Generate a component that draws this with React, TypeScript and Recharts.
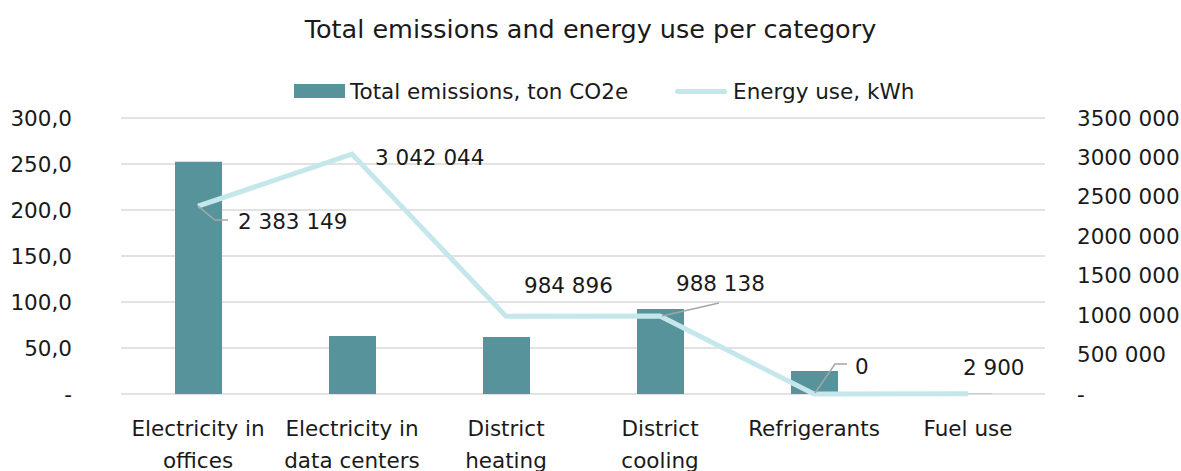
import React from 'react';
import {
    ComposedChart,
    Bar,
    Line,
    XAxis,
    YAxis,
    CartesianGrid,
    LabelList,
} from 'recharts';

// ─── Data ───────────────────────────────────────────────────────
const categories = [
    'Electricity in offices',
    'Electricity in data centers',
    'District heating',
    'District cooling',
    'Refrigerants',
    'Fuel use',
];
const emissions = [252.5, 63.0, 62.0, 92.3, 25.0, 0.2];
const energyUse = [2383149, 3042044, 984896, 988138, 0, 2900];
const leftTicks = [0, 50, 100, 150, 200, 250, 300];
const rightTicks = [0, 500000, 1000000, 1500000, 2000000, 2500000, 3000000, 3500000];

const data = categories.map((name, i) => ({
    name,
    emissions: emissions[i],
    energy: energyUse[i],
}));

// label placement relative to each line point (Excel moved some labels by hand)
const labelOffsets: { dx: number; dy: number; leader?: number[][] }[] = [
    { dx: 40, dy: 15, leader: [[0, 0], [17, 14], [30, 14]] },
    { dx: 23, dy: 3 },
    { dx: 18, dy: -31 },
    { dx: 16, dy: -33, leader: [[2, 0], [59, -13]] },
    { dx: 41, dy: -28, leader: [[1, -1], [21, -30], [33, -30]] },
    { dx: -5, dy: -26 },
];

const FONT = '"DejaVu Sans", sans-serif';
const FS = 21.5;
const BAR_COLOR = '#56939b';
const LINE_COLOR = '#c5e7ec';
const TEXT_COLOR = '#1a1a1a';

const fmtLeft = (v: number) => (v === 0 ? '-' : v.toFixed(1).replace('.', ','));
const fmtRight = (v: number) => {
    if (v === 0) return '-';
    const k = Math.floor(v / 1000);
    return `${k} ${String(v % 1000).padStart(3, '0')}`;
};
const fmtLabel = (v: number) => String(v).replace(/\B(?=(\d{3})+(?!\d))/g, ' ');

// greedy word wrap, like Excel does for category labels
let ctx: CanvasRenderingContext2D | null = null;
const wrap = (s: string, maxW: number) => {
    if (!ctx) ctx = document.createElement('canvas').getContext('2d');
    ctx!.font = `${FS}px ${FONT}`;
    const lines: string[] = [];
    let cur = '';
    s.split(' ').forEach((w) => {
        const test = cur ? `${cur} ${w}` : w;
        if (cur && ctx!.measureText(test).width > maxW) {
            lines.push(cur);
            cur = w;
        } else cur = test;
    });
    lines.push(cur);
    return lines;
};

const LeftTick = (props: any) => (
    <text x={72} y={props.y} textAnchor="end" dominantBaseline="central"
        fontFamily={FONT} fontSize={FS} fill={TEXT_COLOR}>
        {fmtLeft(props.payload.value)}
    </text>
);

const RightTick = (props: any) => (
    <text x={1077} y={props.y} textAnchor="start" dominantBaseline="central"
        fontFamily={FONT} fontSize={FS} fill={TEXT_COLOR}>
        {fmtRight(props.payload.value)}
    </text>
);

const CategoryTick = (props: any) => (
    <text textAnchor="middle" fontFamily={FONT} fontSize={FS} fill={TEXT_COLOR}>
        {wrap(props.payload.value, 142).map((line, i) => (
            <tspan key={i} x={props.x} y={428 + i * 32} dominantBaseline="central">{line}</tspan>
        ))}
    </text>
);

const EnergyLabel = (props: any) => {
    const { x, y, index, value } = props;
    const o = labelOffsets[index];
    return (
        <g>
            {o.leader && (
                <polyline
                    points={o.leader.map(([px, py]) => `${x + px},${y + py}`).join(' ')}
                    fill="none" stroke="#a6a6a6" strokeWidth={1.5}
                />
            )}
            <text x={x + o.dx} y={y + o.dy} dominantBaseline="central"
                fontFamily={FONT} fontSize={FS} fill={TEXT_COLOR}>
                {fmtLabel(value)}
            </text>
        </g>
    );
};

export default function App() {
    return (
        <div style={{ position: 'absolute', left: 0, top: 0, width: 1181, height: 471, background: '#fff', fontFamily: FONT }}>
            <div style={{ position: 'absolute', top: 14, left: 0, width: 1181, textAlign: 'center', fontSize: 25.5, color: TEXT_COLOR }}>
                Total emissions and energy use per category
            </div>

            {/* Legend */}
            <div style={{ position: 'absolute', top: 77, left: 294, height: 28, display: 'flex', alignItems: 'center', fontSize: FS, color: TEXT_COLOR, whiteSpace: 'nowrap' }}>
                <span style={{ width: 51, height: 14, background: BAR_COLOR, display: 'inline-block', marginRight: 5 }} />
                <span style={{ marginRight: 47 }}>Total emissions, ton CO2e</span>
                <span style={{ width: 52, height: 5, borderRadius: 3, background: LINE_COLOR, display: 'inline-block', marginRight: 6 }} />
                <span>Energy use, kWh</span>
            </div>

            <ComposedChart
                width={1181}
                height={471}
                data={data}
                margin={{ top: 118, right: 0, bottom: 0, left: 0 }}
                style={{ position: 'absolute', left: 0, top: 0 }}
            >
                <CartesianGrid yAxisId="left" vertical={false} stroke="#d9d9d9" strokeWidth={1.5} />
                <XAxis dataKey="name" height={77} axisLine={false} tickLine={false}
                    tick={<CategoryTick />} interval={0} />
                <YAxis yAxisId="left" orientation="left" width={121} domain={[0, 300]}
                    ticks={leftTicks} axisLine={false} tickLine={false} tick={<LeftTick />} />
                <YAxis yAxisId="right" orientation="right" width={136} domain={[0, 3500000]}
                    ticks={rightTicks} axisLine={false} tickLine={false} tick={<RightTick />} />
                <Bar yAxisId="left" dataKey="emissions" fill={BAR_COLOR} barSize={47}
                    isAnimationActive={false} />
                <Line yAxisId="right" dataKey="energy" type="linear" stroke={LINE_COLOR}
                    strokeWidth={5} dot={false} activeDot={false} isAnimationActive={false}>
                    <LabelList dataKey="energy" content={<EnergyLabel />} />
                </Line>
            </ComposedChart>
        </div>
    );
}
